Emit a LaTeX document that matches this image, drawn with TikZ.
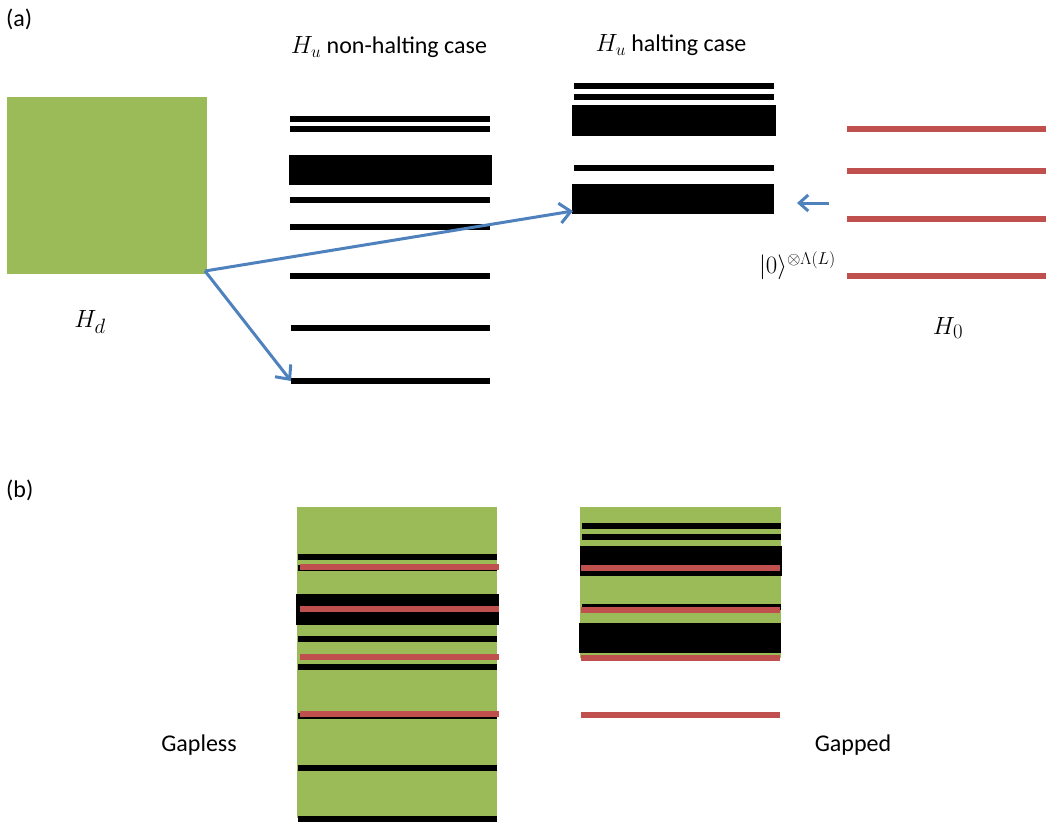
\documentclass[tikz,border=0pt]{standalone}
\usepackage{fontspec}
\setmainfont{Carlito}
\usetikzlibrary{arrows.meta}
\definecolor{lgreen}{HTML}{9BBB59}
\definecolor{lred}{HTML}{C0504D}
\definecolor{lblue}{HTML}{4F81BD}
\tikzset{
  lbl/.style={font=\fontsize{24}{28}\selectfont, inner sep=0pt},
  mlbl/.style={font=\fontsize{28}{32}\selectfont, inner sep=0pt},
  barrow/.style={draw=lblue, line width=3pt, -{Straight Barb[length=11pt,width=20pt,line width=3pt]}},
}
\newcommand{\blk}[3]{\fill[black] (#1,#3-2.6) rectangle (#2,#3+2.6);}
\newcommand{\blkb}[4]{\fill[black] (#1,#3) rectangle (#2,#4);}
\newcommand{\rd}[3]{\fill[lred] (#1,#3-3) rectangle (#2,#3+3);}
\begin{document}
\begin{tikzpicture}[x=1pt,y=-1pt]
\useasboundingbox (0,0) rectangle (1050,822);
% labels
\node[lbl, anchor=west] (la) at (6,19) {(a)};
\node[lbl] (t1) at (389,47) {$H_u$ non-halting case};
\node[lbl] (t2) at (671,45) {$H_u$ halting case};
% green square
\node[fill=lgreen, minimum width=200pt, minimum height=177pt, inner sep=0pt, anchor=north west] (hd) at (7,97) {};
\node[mlbl] (hdl) at (90,322) {$H_d$};
% non-halting levels
\blk{290}{490}{119}
\blk{290}{490}{129}
\blkb{289}{492}{155}{185}
\blk{290}{490}{200}
\blk{290}{490}{227}
\blk{290}{490}{276}
\blk{291}{490}{328}
\blk{291}{490}{381}
% halting levels
\blk{574}{774}{86}
\blk{574}{774}{97}
\blkb{572}{776}{105}{136}
\blk{574}{774}{168}
\blkb{572}{774}{184}{214}
% H0 levels
\rd{847}{1046}{129}
\rd{847}{1046}{171}
\rd{847}{1046}{219}
\rd{847}{1046}{276}
\node[font=\fontsize{26}{30}\selectfont, inner sep=0pt, anchor=east] (zero) at (836,266) {$|0\rangle^{\otimes\Lambda(L)}$};
\node[mlbl] (h0l) at (948,328) {$H_0$};
% arrows
\coordinate (c0) at (205,271);
\coordinate (c1) at (573,211);
\coordinate (c2) at (291,381);
\coordinate (c3) at (829,203);
\coordinate (c4) at (797,203);
\draw[barrow] (c0) -- (c1);
\draw[barrow] (c0) -- (c2);
\draw[draw=lblue, line width=3pt, -{Straight Barb[length=9pt,width=16pt,line width=3pt]}] (c3) -- (c4);
% (b)
\node[lbl, anchor=west] (lb) at (6,490) {(b)};
% left panel
\fill[lgreen] (297,507) rectangle (497,818);
\blk{298}{497}{557}
\blk{298}{497}{568}
\blkb{296}{499}{594}{625}
\blk{298}{497}{639}
\blk{298}{497}{667}
\blk{298}{497}{716}
\blk{298}{497}{768}
\blk{298}{497}{819}
\rd{300}{499}{567}
\rd{300}{499}{609}
\rd{300}{499}{657}
\rd{300}{499}{714}
% right panel
\fill[lgreen] (580,507) rectangle (781,658);
\blk{582}{781}{526}
\blk{582}{781}{537}
\blkb{580}{782}{546}{576}
\blk{582}{781}{607}
\blkb{579}{781}{623}{653}
\rd{581}{780}{568}
\rd{581}{780}{610}
\rd{581}{780}{658}
\rd{581}{780}{715}
\node[lbl] (gl) at (199,745) {Gapless};
\node[lbl] (gp) at (853,745) {Gapped};
\end{tikzpicture}
\end{document}
